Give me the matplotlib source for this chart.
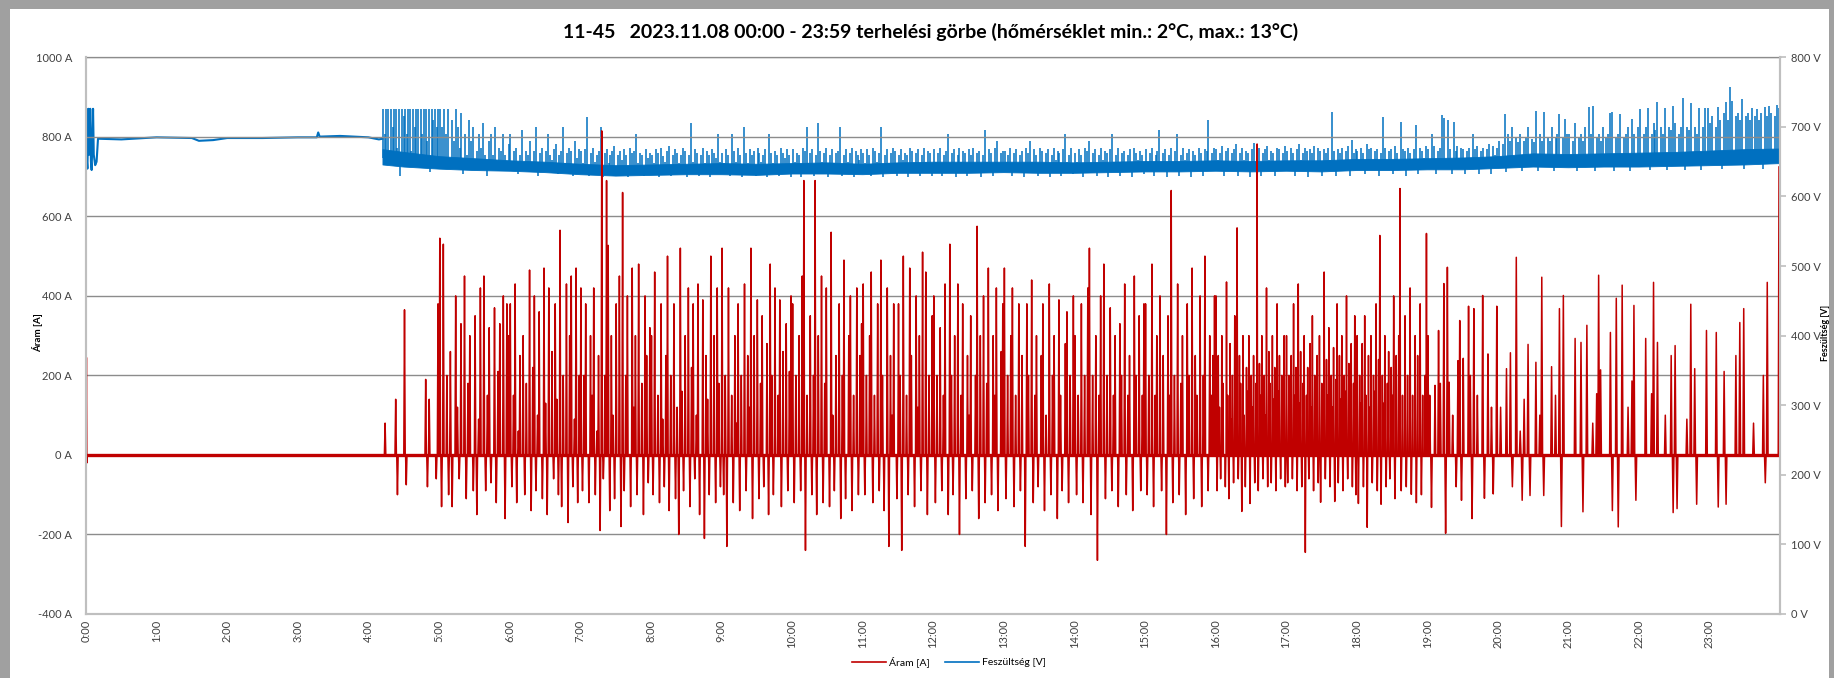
import numpy as np
import matplotlib
matplotlib.use("Agg")
import matplotlib.pyplot as plt
from matplotlib.patches import Rectangle

plt.rcParams['font.family'] = ['Lato', 'DejaVu Sans']

# texts
title = "11-45   2023.11.08 00:00 - 23:59 terhelési görbe (hőmérséklet min.: 2°C, max.: 13°C)"
hour_labels = ["%d:00" % h for h in range(24)]
cur_name = "Áram [A]"
volt_name = "Feszültség [V]"

# current [A] - quiet night part, explicit (hour, value) readings
cur_quiet_t = [0.0, 0.006, 0.012, 0.02, 4.2]
cur_quiet_v = [0, 245, -20, 0, 0]
cur_idle = 0

# current [A] - busy part, readings spread evenly inside each hour
cur_h04 = [0, 80, 0, 0, 0, 0, 0, 140, -100, 0, 0, 0, 365, -75, 0, 0, 0, 0, 0, 0, 0, 0, 0, 0, 190, -80, 140, 0, 0, 0, -60, 380]
cur_h05 = [545, -130, 530, 0, 200, -100, 260, -130, 0, 400, 120, -60, 330, 0, 450, -110, 180, 300, 0, -90,
           350, -150, 90, 420, 0, 450, -90, 150, 320, -70, 0, 370, -120, 210, 330, 0, 400, -160, 380, 300]
cur_h06 = [380, -80, 150, 430, -120, 60, 250, 0, 300, -100, 180, 0, 465, -140, 220, 400, -90, 100, 360, 0, -110, 470,
           130, -150, 420, 0, 260, -60, 380, 140, -100, 565, -130, 200, 0, 430, -170, 300, 450, -80, 90, 470, -120, 200]
cur_h07 = [420, -90, 200, 380, 0, -120, 300, 150, 420, -100, 60, 250, -190, 815, -60, 200, 690, 527, -140, 300, 100, -110,
           380, 0, 450, -180, 660, -90, 200, 400, 0, -130, 470, 120, 300, -100, 480, 0, 180, -150, 400, 250, -70, 320]
cur_h08 = [300, -100, 460, 0, 150, -120, 380, 90, -80, 250, 500, -140, 200, 0, 380, -110, 120, -200, 520, 160, -90, 300,
           0, 420, -130, 220, 380, -60, 100, 430, -150, 0, 390, -210, 250, 140, -100, 500, 0, 300, -120, 420, 180, -80]
cur_h09 = [520, -100, 200, -230, 420, 0, 150, -120, 300, 80, 380, -140, 200, 0, 430, -90, 250, 120, 520, -160, 300, 0,
           390, -110, 180, 350, -80, 0, 280, -150, 480, 200, -100, 420, 0, 150, 390, -130, 260, 0, 330, -90, 210, 400]
cur_h10 = [380, -120, 200, 0, 300, -90, 450, 690, -240, 150, 0, 350, -100, 200, 690, -150, 300, 0, 450, -120, 180, 420,
           0, -130, 560, 100, -90, 250, 0, 380, -160, 200, 490, -110, 0, 300, 400, -140, 150, 0, 420, -100, 250, 330]
cur_h11 = [430, -100, 200, 0, 300, 460, -120, 150, 0, 380, -90, 490, 200, -140, 0, 420, -230, 250, 100, 380, 0, -110,
           380, 200, -240, 500, 0, 150, -100, 470, 250, 0, -130, 400, 120, 300, -90, 510, 0, 460, -150, 200, 0, 350]
cur_h12 = [400, -120, 200, 0, 320, -90, 150, 430, 0, -150, 530, 200, -100, 300, 0, 430, -200, 150, 380, 0, -110, 250,
           100, 350, -90, 0, 200, 575, -160, 300, 0, 400, -120, 180, 470, 0, -100, 300, 150, 420, -140, 0, 260, 380]
cur_h13 = [470, -110, 200, 0, 300, 420, -130, 150, 0, 380, -90, 250, 0, -230, 380, 200, 0, 440, -120, 150, 300, -80,
           0, 250, 380, -140, 100, 0, 430, -100, 200, 300, 0, -160, 390, 150, -90, 0, 280, 360, -120, 200, 0, 400]
cur_h14 = [300, -100, 150, 0, 380, -120, 200, 0, 420, 520, -150, 200, 0, 300, -265, 150, 400, 0, 480, -110, 200, 0,
           370, -90, 150, 300, 0, -130, 330, 200, 0, 430, -100, 150, 250, 0, -140, 450, 200, 0, 350, -90, 150, 380]
cur_h15 = [380, -100, 200, 0, 480, -130, 150, 300, 0, 400, -90, 250, 0, -200, 350, 150, 665, -120, 200, 0, 430, -100,
           180, 300, 0, -150, 380, 200, 0, 470, -110, 250, 150, 0, 400, -130, 200, 500, 0, -90, 300, 150, 250, 400]
cur_h16 = [400, -90, 250, 120, -60, 300, 180, 0, -80, 435, 150, -110, 280, 90, 200, -70, 350, 130, 571, -60,
           250, 180, -142, 300, 100, -80, 220, 160, 300, -122, 200, 120, 250, -70, 180, 782, -90, 230, 150, 300,
           -60, 200, 100, 420, -80, 260, 180, -70, 300, 140, 220, -90, 380, 160, 250, -60, 200, 130, 300, -80]
cur_h17 = [300, -70, 200, 120, 250, -60, 380, 150, 220, -90, 430, 130, 260, -80, 180, 300, -245, 150, 220, -60,
           280, 120, 350, -90, 200, 160, 250, -70, 300, -119, 180, 130, 460, -60, 240, 150, 320, -80, 200, 120,
           270, -117, 190, 380, -70, 250, 140, 300, -90, 200, 160, 400, -60, 230, 130, 280, -80, 180, 350, -100]
cur_h18 = [300, -122, 200, 130, 280, -80, 350, 150, -182, 250, 120, 300, -70, 200, 160, 380, -90, 240, 552, -124,
           200, 130, 300, -80, 180, 260, -60, 220, 150, 400, -110, 250, 0, 300, 670, -90, 150, 0, 350, -80,
           200, 0, 420, -99, 150, 0, 300, -120, 250, 0, 380, -100, 150, 0, 200, 557]
cur_h19 = [300, 150, -132, 0, 175, 0, 313, 180, 0, 431, -197, 472, 183, 0, 100, 0, -80, 237, 338, -114,
           243, 0, 0, 374, 200, -160, 368, 0, 150, 0, 0, 401, -109, 0, 254, 0, 120, -98, 0, 374]
cur_h20 = [0, 120, 0, 0, 217, 0, 257, -80, 0, 497, 0, 60, -114, 140, 0, 278, -102, 0, 0, 233,
           0, 100, 447, -102, 0, 0, 0, 222, 0, 150, 0, 368, -180, 401, 0, 0]
cur_h21 = [0, 0, 0, 293, 0, 0, 283, -143, 0, 326, 0, 0, 80, 0, 154, 452, 214, 0, 0, 0,
           0, 308, -140, 0, 394, -181, 0, 427, 0, 0, 120, 0, 186, 376, -114, 0]
cur_h22 = [0, 0, 0, 293, 0, 0, 154, 434, 0, 283, 0, 0, 0, 100, 0, 0, 250, -145, 275, -135,
           0, 0, 0, 0, 90, 0, 379, 0, 217, -124, 0, 0, 0, 0, 313, 0]
cur_h23 = [0, 0, 0, 308, -131, 0, 0, 210, -124, 0, 0, 0, 0, 250, 0, 333, 0, 368, 0, 0,
           0, 0, 80, 0, 0, 0, 0, 200, -70, 434, 0, 0, 0, 0, 0, 725]
cur_hours = [(4.2, cur_h04), (5, cur_h05), (6, cur_h06), (7, cur_h07), (8, cur_h08), (9, cur_h09),
             (10, cur_h10), (11, cur_h11), (12, cur_h12), (13, cur_h13), (14, cur_h14), (15, cur_h15),
             (16, cur_h16), (17, cur_h17), (18, cur_h18), (19, cur_h19), (20, cur_h20), (21, cur_h21),
             (22, cur_h22), (23, cur_h23)]

# voltage [V] - night part readings (hour, value)
volt_quiet_t = [0.0, 0.005, 0.01, 0.02, 0.035, 0.045, 0.06, 0.07, 0.08, 0.1, 0.11, 0.13, 0.15, 0.17,
                0.5, 1.0, 1.5, 1.6, 1.8, 2.0, 2.5, 3.0, 3.27, 3.29, 3.31, 3.6, 4.0, 4.15, 4.2]
volt_quiet_v = [660, 726, 655, 640, 726, 660, 726, 650, 638, 726, 660, 645, 650, 683,
                682, 685, 684, 680, 681, 684, 684, 685, 685, 692, 686, 687, 685, 682, 683]

# voltage band after 4:12 (low / high edge, every half hour)
band_t = [4.2, 4.5, 5.0, 5.5, 6.0, 6.5, 7.0, 7.5, 8.0, 8.5, 9.0, 9.5, 10.0, 10.5, 11.0, 11.5, 12.0, 12.5, 13.0, 13.5,
          14.0, 14.5, 15.0, 15.5, 16.0, 16.5, 17.0, 17.5, 18.0, 18.5, 19.0, 19.5, 20.0, 20.5, 21.0, 21.5, 22.0,
          22.5, 23.0, 23.5, 24.0]
band_lo = [646, 643, 640, 638, 637, 635, 632, 630, 631, 632, 632, 631, 633, 633, 632, 634, 634, 634, 635, 634,
           634, 635, 636, 636, 637, 636, 637, 636, 638, 638, 639, 639, 641, 643, 642, 643, 643, 644, 645, 646, 648]
band_hi = [668, 664, 658, 655, 652, 650, 647, 645, 646, 647, 648, 647, 648, 649, 647, 649, 650, 650, 650, 650,
           649, 650, 651, 651, 652, 651, 652, 652, 654, 654, 655, 656, 658, 662, 661, 662, 663, 664, 666, 668, 669]

# voltage spikes per hour (base level, readings spread evenly inside the hour)
vs_h04 = [726, 690, 726, 726, 660, 726, 700, 726, 726, 670, 726, 630, 726, 715, 726, 690, 726, 726, 665, 726,
          700, 726, 726, 650, 726, 690, 726, 726, 680, 726, 635, 726, 710, 726, 700, 726]
vs_h05 = [726, 700, 726, 690, 726, 640, 710, 680, 726, 700, 670, 720, 632, 690, 660, 710, 680, 700, 645, 665,
          690, 670, 705, 660, 630, 680, 690, 660, 700, 648, 670, 665, 690, 660, 645, 675]
vs_h06 = [690, 648, 665, 670, 632, 660, 695, 650, 665, 660, 680, 645, 665, 700, 630, 662, 670, 648, 665, 690,
          660, 652, 668, 675, 632, 660, 665, 700, 648, 662, 670, 665, 630, 680, 655, 668]
vs_h07 = [665, 648, 668, 714, 630, 662, 670, 650, 660, 665, 700, 628, 662, 668, 648, 660, 665, 672, 630, 660,
          665, 652, 668, 660, 628, 670, 662, 665, 690, 648, 662, 660, 630, 668, 655, 662]
vs_h08 = [660, 648, 668, 662, 628, 670, 658, 650, 665, 672, 630, 660, 668, 662, 648, 660, 670, 665, 628, 660,
          705, 650, 668, 662, 630, 660, 670, 648, 665, 660, 628, 668, 662, 655, 690, 650]
vs_h09 = [662, 648, 668, 660, 630, 690, 665, 650, 670, 660, 628, 700, 662, 648, 668, 660, 665, 630, 670, 662,
          650, 660, 668, 628, 690, 662, 648, 665, 660, 630, 670, 662, 655, 668, 660, 628]
vs_h10 = [668, 650, 662, 660, 628, 670, 665, 700, 648, 662, 668, 630, 660, 705, 665, 650, 662, 670, 628, 660,
          668, 648, 662, 665, 700, 630, 660, 668, 650, 662, 670, 628, 665, 660, 652, 668]
vs_h11 = [662, 648, 668, 660, 630, 670, 665, 650, 662, 700, 628, 660, 668, 648, 662, 670, 665, 630, 660, 668,
          652, 662, 660, 628, 670, 665, 648, 662, 668, 630, 660, 670, 650, 665, 662, 630]
vs_h12 = [668, 650, 662, 670, 630, 660, 665, 690, 648, 662, 668, 628, 660, 670, 650, 665, 662, 630, 668, 660,
          670, 648, 662, 665, 628, 660, 695, 650, 668, 662, 630, 670, 680, 648, 662, 665]
vs_h13 = [665, 650, 660, 670, 630, 662, 668, 648, 660, 665, 628, 670, 662, 680, 650, 668, 660, 630, 670, 665,
          648, 662, 668, 628, 660, 670, 652, 665, 662, 630, 668, 690, 650, 660, 670, 632]
vs_h14 = [662, 650, 668, 660, 628, 670, 665, 680, 648, 662, 668, 630, 660, 670, 652, 665, 662, 628, 668, 690,
          650, 660, 670, 630, 662, 665, 648, 660, 668, 628, 670, 662, 652, 665, 660, 632]
vs_h15 = [668, 650, 662, 670, 630, 660, 665, 695, 648, 662, 668, 628, 660, 670, 650, 665, 690, 630, 660, 670,
          652, 662, 668, 628, 665, 660, 650, 670, 662, 630, 668, 665, 710, 648, 662, 670]
vs_h16 = [668, 652, 662, 672, 630, 665, 670, 650, 662, 668, 675, 630, 662, 670, 652, 665, 662, 628, 668, 677,
          650, 665, 670, 630, 662, 668, 672, 652, 665, 662, 630, 670, 668, 650, 662, 672]
vs_h17 = [665, 650, 670, 662, 630, 668, 675, 652, 662, 670, 665, 628, 668, 662, 672, 650, 670, 665, 630, 668,
          662, 670, 652, 722, 665, 630, 668, 662, 670, 650, 665, 672, 630, 681, 662, 668]
vs_h18 = [665, 652, 670, 662, 632, 675, 668, 670, 650, 665, 668, 630, 662, 714, 670, 652, 665, 668, 632, 672,
          662, 650, 707, 668, 665, 630, 670, 662, 652, 668, 702, 632, 670, 665, 655, 672]
vs_h19 = [668, 652, 690, 672, 632, 665, 670, 717, 713, 650, 710, 668, 632, 707, 665, 672, 655, 670, 668, 632,
          665, 670, 652, 690, 668, 672, 632, 665, 670, 655, 668, 675, 632, 672, 660, 670]
vs_h20 = [680, 655, 675, 719, 635, 690, 680, 700, 658, 685, 678, 690, 636, 680, 685, 700, 660, 682, 678, 723,
          636, 690, 680, 722, 658, 685, 680, 700, 636, 685, 690, 719, 660, 685, 712, 690]
vs_h21 = [690, 660, 680, 705, 636, 685, 690, 680, 700, 658, 729, 690, 730, 636, 685, 690, 680, 700, 660, 685,
          690, 720, 722, 636, 685, 690, 718, 660, 685, 690, 700, 636, 712, 690, 660, 700]
vs_h22 = [725, 660, 690, 700, 727, 638, 690, 705, 695, 736, 662, 700, 690, 727, 638, 700, 695, 730, 705, 662,
          690, 700, 741, 638, 700, 695, 735, 660, 700, 690, 727, 638, 700, 727, 662, 727]
vs_h23 = [705, 715, 662, 700, 729, 710, 640, 720, 736, 710, 757, 737, 662, 715, 720, 710, 740, 640, 715, 720,
          710, 727, 662, 715, 726, 710, 720, 640, 729, 715, 730, 720, 662, 715, 732, 727]
volt_spikes = [(4.2, 655, vs_h04), (5, 648, vs_h05), (6, 645, vs_h06), (7, 640, vs_h07), (8, 640, vs_h08),
               (9, 640, vs_h09), (10, 641, vs_h10), (11, 641, vs_h11), (12, 642, vs_h12), (13, 642, vs_h13),
               (14, 642, vs_h14), (15, 643, vs_h15), (16, 644, vs_h16), (17, 644, vs_h17), (18, 646, vs_h18),
               (19, 647, vs_h19), (20, 652, vs_h20), (21, 652, vs_h21), (22, 654, vs_h22), (23, 657, vs_h23)]

red = '#c00000'
blue = '#0070c0'

# build current series: every reading is a short pulse from the idle level
cur_t = list(cur_quiet_t)
cur_v = list(cur_quiet_v)
for i, (start, vals) in enumerate(cur_hours):
    end = cur_hours[i + 1][0] if i + 1 < len(cur_hours) else 24.0
    n = len(vals)
    step = (end - start) / n
    for k, v in enumerate(vals):
        tc = start + (k + 0.5) * step
        cur_t += [tc - 0.4 * step, tc, tc + 0.4 * step]
        cur_v += [cur_idle, v, cur_idle]

fig = plt.figure(figsize=(18.34, 6.78), dpi=100)
# window frame
fig.patches.append(Rectangle((0, 0), 1, 1, transform=fig.transFigure, facecolor='#a0a0a0', zorder=-3))
fig.patches.append(Rectangle((10 / 1834, 0), (1819 / 1834), 1 - 9 / 678, transform=fig.transFigure,
                             facecolor='white', zorder=-2))

ax = fig.add_axes([86 / 1834, 1 - 614 / 678, (1780 - 86) / 1834, (614 - 57.3) / 678])
ax2 = ax.twinx()

# voltage (right axis)
ax2.fill_between(band_t, band_lo, band_hi, color=blue, lw=0.6)
for i, (start, base, vals) in enumerate(volt_spikes):
    end = volt_spikes[i + 1][0] if i + 1 < len(volt_spikes) else 24.0
    n = len(vals)
    ts = start + (np.arange(n) + 0.5) * (end - start) / n
    ax2.vlines(ts, base, vals, color=blue, lw=1.1)
vline, = ax2.plot(volt_quiet_t, volt_quiet_v, color=blue, lw=1.5)
ax2.set_ylim(0, 800)
ax2.set_yticks(range(0, 801, 100))
ax2.set_yticklabels(["%d V" % v for v in range(0, 801, 100)])

# current (left axis) on top
ax.set_zorder(ax2.get_zorder() + 1)
ax.patch.set_visible(False)
ax.plot([0, 24], [cur_idle, cur_idle], color=red, lw=2.4)
cline, = ax.plot(cur_t, cur_v, color=red, lw=1.1)
ax.set_ylim(-400, 1000)
ax.set_yticks(range(-400, 1001, 200))
ax.set_yticklabels(["%d A" % v for v in range(-400, 1001, 200)])
ax.set_xlim(0, 24)
ax.set_xticks(range(24))
ax.set_xticklabels(hour_labels, rotation=90)
ax.grid(axis='y', color='#8c8c8c', lw=1.0)
ax.set_axisbelow(True)

for a in (ax, ax2):
    for s in a.spines.values():
        s.set_color('#bfbfbf')
        s.set_linewidth(1.5)
ax.spines['top'].set_visible(False)
ax2.spines['top'].set_color('#b0b0b0')
ax2.spines['top'].set_linewidth(1.0)
ax.tick_params(axis='y', length=0, pad=10, labelsize=8, labelcolor='#404040')
ax.tick_params(axis='x', length=0, pad=4, labelsize=8, labelcolor='#404040')
ax2.tick_params(axis='y', length=4, width=1.2, color='#bfbfbf', pad=4, labelsize=8, labelcolor='#404040')

fig.text(931 / 1834, 1 - 32 / 678, title, ha='center', va='center', fontsize=14, fontweight='bold')
fig.text(38 / 1834, 1 - 333 / 678, cur_name, rotation=90, ha='center', va='center', fontsize=7, fontweight='bold')
fig.text(1826 / 1834, 1 - 333 / 678, volt_name, rotation=90, ha='center', va='center', fontsize=6.5,
         fontweight='bold')

leg = fig.legend([cline, vline], [cur_name, volt_name], loc='center', bbox_to_anchor=(949 / 1834, 1 - 662 / 678),
                 ncol=2, frameon=False, fontsize=7.5, handlelength=3.3, columnspacing=1.4, handletextpad=0.3)
for l in leg.get_lines():
    l.set_linewidth(1.2)

fig.savefig("out.png", dpi=100)
